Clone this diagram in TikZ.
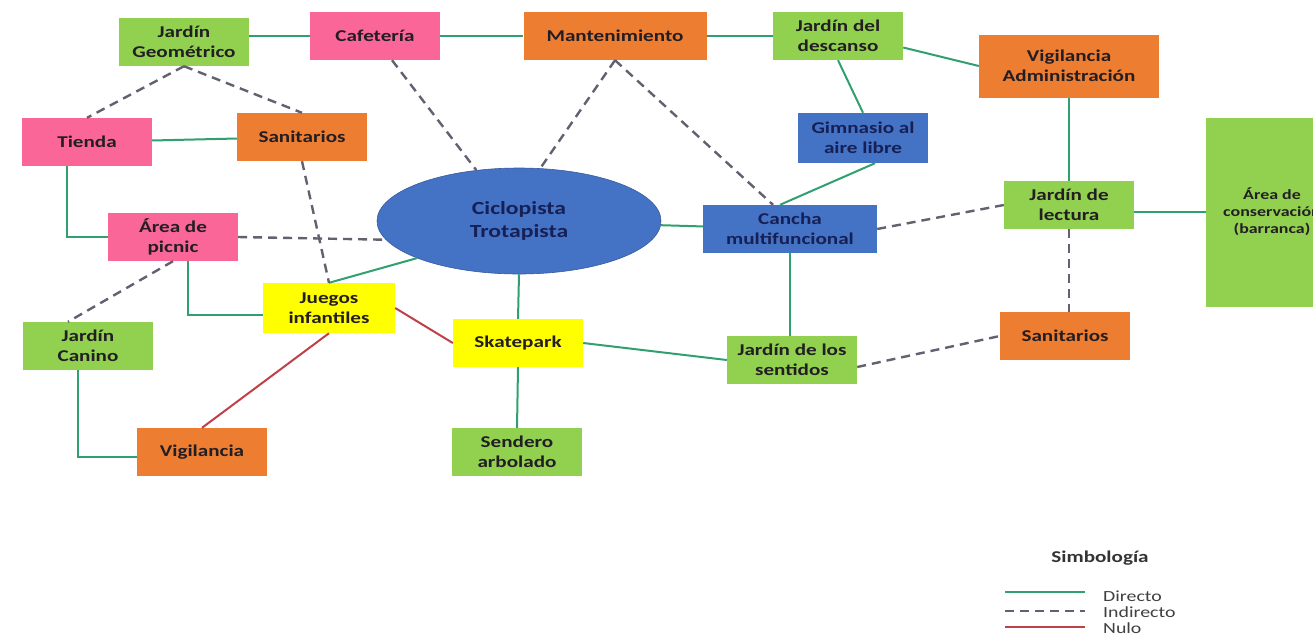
\documentclass[tikz,border=0pt]{standalone}
\usepackage{fontspec}
\setmainfont[FakeStretch=1.28]{Carlito}
\usetikzlibrary{shapes.geometric}
\definecolor{verde}{RGB}{146,208,80}
\definecolor{rosa}{RGB}{250,102,152}
\definecolor{naranja}{RGB}{237,125,49}
\definecolor{azul}{RGB}{68,114,196}
\definecolor{amarillo}{RGB}{255,255,0}
\definecolor{directo}{RGB}{48,160,112}
\definecolor{indirecto}{RGB}{100,96,112}
\definecolor{nulo}{RGB}{192,64,72}
\definecolor{tinta}{RGB}{35,30,35}
\definecolor{tintaazul}{RGB}{22,32,85}
\tikzset{
  caja/.style={minimum width=130pt, minimum height=48pt, inner sep=2pt, align=center,
    font=\fontsize{16.5}{20}\selectfont\bfseries, text=tinta},
  cajaverde/.style={caja, fill=verde},
  cajarosa/.style={caja, fill=rosa},
  cajanaranja/.style={caja, fill=naranja},
  cajaazul/.style={caja, fill=azul, text=tintaazul},
  cajaamarilla/.style={caja, fill=amarillo},
  lindir/.style={directo, line width=2pt},
  linind/.style={indirecto, line width=2.4pt, dash pattern=on 9pt off 6pt},
  linnul/.style={nulo, line width=2pt},
  leyenda/.style={font=\fontsize{15.5}{18}\selectfont, text=black!75, anchor=west, inner sep=0pt}
}
\begin{document}
\begin{tikzpicture}[x=1pt,y=-1pt]
\fill[white] (0,0) rectangle (1313,638);
\useasboundingbox (0,0) rectangle (1313,638);
% fila superior
\node[cajaverde] (geom) at (184,42) {Jardín\\Geométrico};
\node[cajarosa] (cafe) at (375,36) {Cafetería};
\node[cajanaranja, minimum width=183pt] (mant) at (615,36) {Mantenimiento};
\node[cajaverde] (desc) at (838,36) {Jardín del\\descanso};
\node[cajanaranja, minimum width=180pt, minimum height=63pt] (vadm) at (1069,66) {Vigilancia\\Administración};
% segunda fila
\node[cajarosa] (tienda) at (87,142) {Tienda};
\node[cajanaranja] (sanl) at (302,137) {Sanitarios};
\node[cajaazul, minimum height=50pt] (gym) at (863,138) {Gimnasio al\\aire libre};
% centro
\node[ellipse, fill=azul, draw=azul!80!black, line width=.6pt, minimum width=284pt, minimum height=106pt,
  inner sep=0pt, align=center, font=\fontsize{18.5}{23}\selectfont\bfseries, text=tintaazul] (cic) at (519,221) {Ciclopista\\Trotapista};
\node[cajaazul, minimum width=174pt] (cancha) at (790,229) {Cancha\\multifuncional};
\node[cajaverde] (lect) at (1069,205) {Jardín de\\lectura};
\node[cajaverde, minimum width=132pt, minimum height=189pt, font=\fontsize{14}{17}\selectfont\bfseries] (cons) at (1272,212) {Área de\\conservación\\(barranca)};
\node[cajarosa] (picnic) at (173,237) {Área de\\picnic};
% parte inferior
\node[cajaamarilla, minimum width=132pt, minimum height=50pt] (juegos) at (329,308) {Juegos\\infantiles};
\node[cajaverde] (canino) at (88,346) {Jardín\\Canino};
\node[cajanaranja] (vig) at (202,452) {Vigilancia};
\node[cajaamarilla] (skate) at (518,343) {Skatepark};
\node[cajaverde] (sendero) at (517,452) {Sendero\\arbolado};
\node[cajaverde] (sent) at (792,360) {Jardín de los\\sentidos};
\node[cajanaranja] (sanr) at (1065,336) {Sanitarios};
% relaciones directas
\draw[lindir] (geom.east |- cafe.west) -- (cafe.west);
\draw[lindir] (cafe.east) -- (mant.west);
\draw[lindir] (mant.east) -- (desc.west);
\draw[lindir] (desc.-10) -- (vadm.west);
\draw[lindir] (desc.south) -- (gym.north);
\draw[lindir] ([xshift=12pt]gym.south) -- ([xshift=-10pt]cancha.north);
\draw[lindir] (cic) -- (cancha);
\draw[lindir] (vadm.south) -- (lect.north);
\draw[lindir] (lect.east |- cons.west) -- (cons.west);
\draw[lindir] ([xshift=-20pt]tienda.south) |- (picnic.west);
\draw[lindir] (tienda) -- (sanl);
\draw[lindir] ([xshift=15pt]picnic.south) |- ([yshift=-7pt]juegos.west);
\draw[lindir] ([xshift=-10pt]canino.south) |- ([yshift=-5pt]vig.west);
\draw[lindir] (juegos.north) -- (cic.200);
\draw[lindir] (cic.south) -- (skate.north);
\draw[lindir] (skate.south) -- (sendero.north);
\draw[lindir] (skate.east) -- (sent.west);
\draw[lindir] (cancha.south) -- (cancha.south |- sent.north);
% relaciones indirectas
\draw[linind] (geom.south) -- (tienda.north);
\draw[linind] (geom.south) -- (sanl.north);
\draw[linind] ([xshift=17pt]cafe.south) -- (cic.130);
\draw[linind] (mant.south) -- (cic.68);
\draw[linind] (mant.south) -- ([xshift=-17pt]cancha.north);
\draw[linind] (picnic.east) -- (cic.188);
\draw[linind] (sanl.south) -- (juegos.north);
\draw[linind] (picnic.south) -- ([xshift=-20pt]canino.north);
\draw[linind] (cancha.east) -- (lect.west);
\draw[linind] (lect.south) -- (lect.south |- sanr.north);
\draw[linind] ([yshift=-7pt]sent.east) -- (sanr.west);
% relaciones nulas
\draw[linnul] (juegos.south) -- (vig.north);
\draw[linnul] (juegos.east) -- (skate.west);
% simbologia
\node[font=\fontsize{16.5}{20}\selectfont\bfseries, text=black!80] (simb) at (1100,558) {Simbología};
\coordinate (d1) at (1005,592); \coordinate (d2) at (1085,592);
\coordinate (i1) at (1005,611); \coordinate (i2) at (1085,611);
\coordinate (n1) at (1005,627); \coordinate (n2) at (1085,627);
\draw[lindir] (d1) -- (d2);
\draw[linind, line width=2pt] (i1) -- (i2);
\draw[linnul] (n1) -- (n2);
\node[leyenda] (tdir) at (1103,596) {Directo};
\node[leyenda] (tind) at (1103,612) {Indirecto};
\node[leyenda] (tnul) at (1103,628) {Nulo};
\end{tikzpicture}
\end{document}
